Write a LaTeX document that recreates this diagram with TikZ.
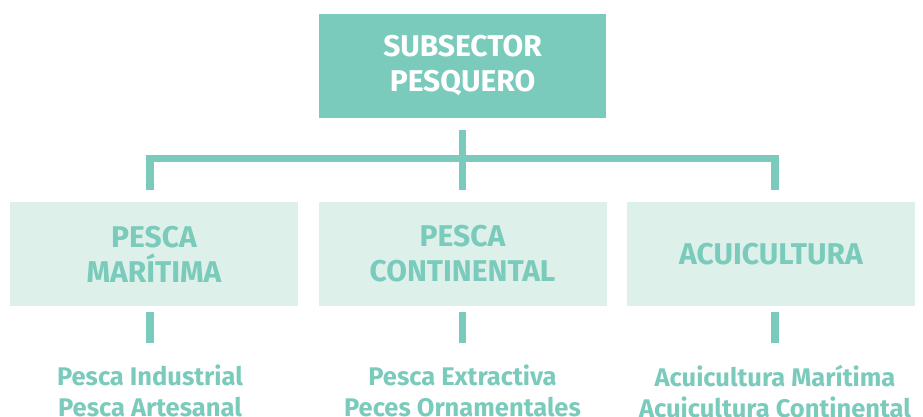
\documentclass[tikz,border=0pt]{standalone}
\usepackage{fontspec}
\setmainfont{Fira Sans}
\usetikzlibrary{positioning}
\definecolor{tealdark}{HTML}{7ACBBB}
\definecolor{teallight}{HTML}{DEF0EA}

\begin{document}
\begin{tikzpicture}[
				x=1pt, y=-1pt,
				topbox/.style={rectangle, fill=tealdark, text=white, inner sep=0pt,
					minimum width=287pt, minimum height=104pt, align=center,
					font=\fontsize{30}{35}\selectfont\bfseries},
				catbox/.style={rectangle, fill=teallight, text=tealdark, inner sep=0pt,
					minimum width=288pt, minimum height=104pt, align=center,
					font=\fontsize{30}{35}\selectfont\bfseries},
				sublist/.style={anchor=north, text=tealdark, inner sep=0pt, align=center,
					font=\fontsize{25.5}{31}\selectfont\bfseries},
				link/.style={draw=tealdark, line width=7.5pt}
				]
				\useasboundingbox (0,0) rectangle (923,417);
				
				% --- Top: subsector ---
				\node[topbox] (sub) at (462.5,66) {SUBSECTOR\\ PESQUERO};
				
				% --- Middle row: categories ---
				\node[catbox] (mar) at (154,254) {PESCA\\ MARÍTIMA};
				\node[catbox] (con) at (462.5,254) {PESCA\\ CONTINENTAL};
				\node[catbox] (acu) at (771,254) {ACUICULTURA};
				
				% --- Bottom row: activities ---
				\node[sublist] (mart) at (150,365) {Pesca Industrial\\ Pesca Artesanal};
				\node[sublist] (cont) at (462.5,365) {Pesca Extractiva\\ Peces Ornamentales};
				\node[sublist] (acut) at (775,365) {Acuicultura Marítima\\ Acuicultura Continental};
				
				% --- Tree connectors ---
				\coordinate (bus) at (462.5,158.5);
				\draw[link] ([yshift=-12pt]sub.south) -- ([yshift=12pt]con.north);
				\draw[link] ([yshift=12pt]mar.north -| mart.north) |- (bus) -| ([yshift=12pt]acu.north -| acut.north);
				\draw[link] ([yshift=-6pt]mar.south -| mart.north) -- ([yshift=22pt]mart.north);
				\draw[link] ([yshift=-6pt]con.south) -- ([yshift=22pt]cont.north);
				\draw[link] ([yshift=-6pt]acu.south -| acut.north) -- ([yshift=22pt]acut.north);
			\end{tikzpicture}
\end{document}
